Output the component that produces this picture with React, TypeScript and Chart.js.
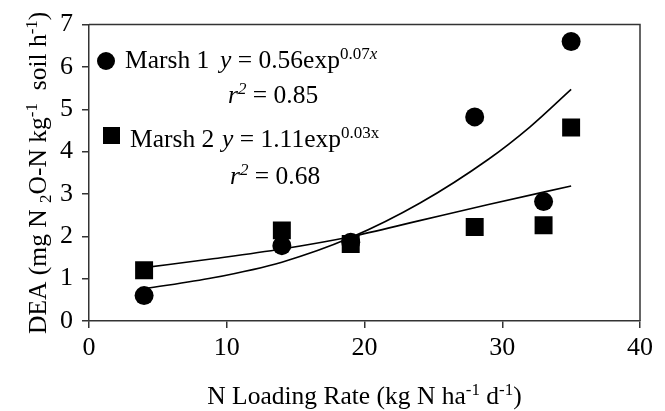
import { useEffect, useRef } from 'react';
import { Chart, registerables } from 'chart.js';

Chart.register(...registerables);

const marsh1X = [4, 14, 19, 28, 33, 35];
const marsh1Y = [0.6, 1.78, 1.86, 4.82, 2.82, 6.6];
const marsh2X = [4, 14, 19, 28, 33, 35];
const marsh2Y = [1.2, 2.14, 1.82, 2.22, 2.26, 4.57];

// Fitted curves
const fit1X = [4, 9, 14, 19, 24, 29, 32, 35];
const fit1Y = [0.76, 1.02, 1.39, 1.97, 2.78, 3.82, 4.58, 5.47];
const fit2X = [4, 9, 14, 19, 24, 29, 35];
const fit2Y = [1.26, 1.47, 1.7, 1.99, 2.37, 2.75, 3.19];

const xTickValues = [0, 10, 20, 30, 40];
const yTickValues = [0, 1, 2, 3, 4, 5, 6, 7];

const FAM = '"Liberation Serif", "Times New Roman", serif';
const FS = 25.5;
const TICK_FS = 26;
const YTITLE_FS = 25.5;

type Seg = { t: string; it?: boolean; sup?: boolean; sub?: boolean };

function segFont(s: Seg, size: number) {
  const sz = s.sup || s.sub ? Math.round(size * 0.68) : size;
  return `${s.it ? 'italic ' : ''}${sz}px ${FAM}`;
}

function richWidth(ctx: CanvasRenderingContext2D, segs: Seg[], size: number) {
  let w = 0;
  for (const s of segs) {
    ctx.font = segFont(s, size);
    w += ctx.measureText(s.t).width;
  }
  return w;
}

function drawRich(
  ctx: CanvasRenderingContext2D,
  segs: Seg[],
  x: number,
  y: number,
  size: number,
  align: 'left' | 'center'
) {
  const total = richWidth(ctx, segs, size);
  let cx = align === 'center' ? x - total / 2 : x;
  ctx.textAlign = 'left';
  ctx.textBaseline = 'alphabetic';
  for (const s of segs) {
    ctx.font = segFont(s, size);
    const dy = s.sup ? -size * 0.36 : s.sub ? size * 0.2 : 0;
    ctx.fillText(s.t, cx, y + dy);
    cx += ctx.measureText(s.t).width;
  }
}

const xTitle: Seg[] = [
  { t: 'N Loading Rate (kg N ha' },
  { t: '-1', sup: true },
  { t: ' d' },
  { t: '-1', sup: true },
  { t: ')' },
];
const yTitle: Seg[] = [
  { t: 'DEA (mg N ' },
  { t: '2', sub: true },
  { t: 'O-N kg' },
  { t: '-1', sup: true },
  { t: '  soil h' },
  { t: '-1', sup: true },
  { t: ')' },
];

const annot1: Seg[] = [
  { t: 'y', it: true },
  { t: ' = 0.56exp' },
  { t: '0.07', sup: true },
  { t: 'x', sup: true, it: true },
];
const annot1r: Seg[] = [{ t: 'r', it: true }, { t: '2', sup: true, it: true }, { t: ' = 0.85' }];
const annot2: Seg[] = [{ t: 'y', it: true }, { t: ' = 1.11exp' }, { t: '0.03x', sup: true }];
const annot2r: Seg[] = [{ t: 'r', it: true }, { t: '2', sup: true, it: true }, { t: ' = 0.68' }];

const decorPlugin = {
  id: 'decor',
  afterDraw(chart: any) {
    const ctx: CanvasRenderingContext2D = chart.ctx;
    const a = chart.chartArea;
    ctx.save();
    // frame top & right
    ctx.strokeStyle = '#333';
    ctx.lineWidth = 1.5;
    ctx.beginPath();
    ctx.moveTo(a.left, a.top);
    ctx.lineTo(a.right, a.top);
    ctx.lineTo(a.right, a.bottom);
    ctx.stroke();

    ctx.fillStyle = '#000';
    // legend markers
    ctx.beginPath();
    ctx.arc(106, 61, 9, 0, Math.PI * 2);
    ctx.fill();
    ctx.fillRect(103, 127, 17, 17);

    drawRich(ctx, [{ t: 'Marsh 1' }], 125, 68, FS, 'left');
    drawRich(ctx, annot1, 220, 68, FS, 'left');
    drawRich(ctx, annot1r, 228, 103, FS, 'left');
    drawRich(ctx, [{ t: 'Marsh 2' }], 130, 147, FS, 'left');
    drawRich(ctx, annot2, 222, 147, FS, 'left');
    drawRich(ctx, annot2r, 230, 184, FS, 'left');

    // axis titles
    drawRich(ctx, xTitle, (a.left + a.right) / 2, 404, FS, 'center');
    ctx.translate(46, (a.top + a.bottom) / 2);
    ctx.rotate(-Math.PI / 2);
    drawRich(ctx, yTitle, 0, 0, YTITLE_FS, 'center');
    ctx.restore();
  },
};

export default function App() {
  const ref = useRef<HTMLCanvasElement | null>(null);
  useEffect(() => {
    document.body.style.margin = '0';
    const canvas = ref.current!;
    const font = { family: FAM, size: TICK_FS };
    const chart = new Chart(canvas, {
      type: 'scatter',
      data: {
        datasets: [
          {
            label: 'Marsh 1',
            data: marsh1X.map((x, i) => ({ x, y: marsh1Y[i] })),
            pointStyle: 'circle',
            pointRadius: 9.5,
            pointBackgroundColor: '#000',
            pointBorderWidth: 0,
            order: 0,
          } as any,
          {
            label: 'Marsh 2',
            data: marsh2X.map((x, i) => ({ x, y: marsh2Y[i] })),
            pointStyle: 'rect',
            pointRadius: 12.7,
            pointBackgroundColor: '#000',
            pointBorderWidth: 0,
            order: 0,
          } as any,
          {
            type: 'line',
            label: 'Fit 1',
            data: fit1X.map((x, i) => ({ x, y: fit1Y[i] })),
            borderColor: '#000',
            borderWidth: 1.6,
            pointRadius: 0,
            cubicInterpolationMode: 'monotone',
            fill: false,
            order: 1,
          } as any,
          {
            type: 'line',
            label: 'Fit 2',
            data: fit2X.map((x, i) => ({ x, y: fit2Y[i] })),
            borderColor: '#000',
            borderWidth: 1.6,
            pointRadius: 0,
            cubicInterpolationMode: 'monotone',
            fill: false,
            order: 1,
          } as any,
        ],
      },
      options: {
        animation: false,
        responsive: false,
        maintainAspectRatio: false,
        layout: { padding: { top: 24, right: 25, left: 0, bottom: 0 } },
        plugins: { legend: { display: false }, tooltip: { enabled: false } },
        scales: {
          x: {
            type: 'linear',
            min: 0,
            max: 40,
            afterBuildTicks: (s: any) => {
              s.ticks = xTickValues.map((v) => ({ value: v }));
            },
            afterFit: (s: any) => {
              s.height = 90;
            },
            ticks: { font, color: '#000', padding: 5, maxRotation: 0 },
            grid: { drawOnChartArea: false, tickLength: 7, color: '#333', lineWidth: 1.5 },
            border: { color: '#333', width: 1.5 },
          },
          y: {
            type: 'linear',
            min: 0,
            max: 7,
            afterBuildTicks: (s: any) => {
              s.ticks = yTickValues.map((v) => ({ value: v }));
            },
            afterFit: (s: any) => {
              s.width = 89;
            },
            ticks: { font, color: '#000', padding: 9 },
            grid: { drawOnChartArea: false, tickLength: 7, color: '#333', lineWidth: 1.5 },
            border: { color: '#333', width: 1.5 },
          },
        },
      } as any,
      plugins: [decorPlugin],
    });
    return () => chart.destroy();
  }, []);
  return (
    <div style={{ position: 'absolute', left: 0, top: 0, width: 665, height: 411 }}>
      <canvas ref={ref} width={665} height={411} style={{ width: 665, height: 411, display: 'block' }} />
    </div>
  );
}
